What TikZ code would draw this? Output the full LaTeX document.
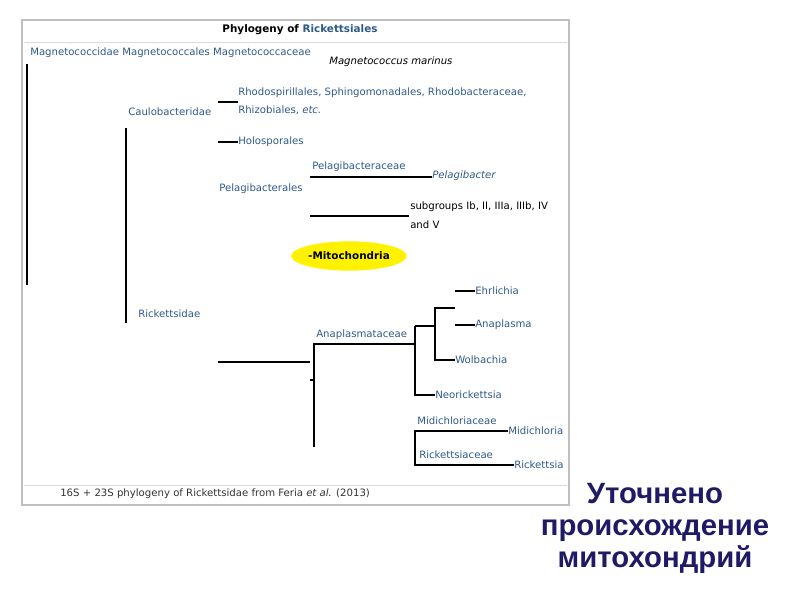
\documentclass[tikz,border=0pt]{standalone}
\usepackage{fontspec}
\usetikzlibrary{shapes.geometric}
\setmainfont{DejaVu Sans}
\newfontfamily\rusfont{Liberation Sans}
\definecolor{tx}{HTML}{2E5A88}
\definecolor{rus}{HTML}{1E1A66}
\begin{document}
\begin{tikzpicture}[x=0.75pt,y=-0.75pt,
  lab/.style={anchor=west,inner sep=0pt,font=\fontsize{7.6}{9}\selectfont,text=tx},
  blk/.style={lab,text=black},
  br/.style={line width=0.8pt}]
\useasboundingbox (0,0) rectangle (794,595);
\draw[gray!50,line width=1pt] (22,20) rectangle (569,505);
\draw[gray!30] (24,42) -- (567,42);
\draw[gray!30] (24,485) -- (567,485);
\node[font=\fontsize{7.8}{9}\selectfont\bfseries,inner sep=0pt] (title) at (300,30) {Phylogeny of \textcolor{tx}{Rickettsiales}};
\node[lab] (mag) at (30,53) {Magnetococcidae Magnetococcales Magnetococcaceae};
\node[blk,font=\fontsize{7.6}{9}\selectfont\itshape] (mm) at (329,62) {Magnetococcus marinus};
\node[lab] (cau) at (128,112) {Caulobacteridae};
\node[lab] (rho1) at (238,93) {Rhodospirillales, Sphingomonadales, Rhodobacteraceae,};
\node[lab] (rho2) at (238,110) {Rhizobiales, \textit{etc.}};
\node[lab] (hol) at (238,142) {Holosporales};
\node[lab] (pgc) at (312,167) {Pelagibacteraceae};
\node[lab,font=\fontsize{7.6}{9}\selectfont\itshape] (pgb) at (432,176) {Pelagibacter};
\node[lab] (pgl) at (219,189) {Pelagibacterales};
\node[blk] (sg1) at (410,207) {subgroups Ib, II, IIIa, IIIb, IV};
\node[blk] (sg2) at (410,225) {and V};
\node[ellipse,fill=yellow,minimum width=83pt,minimum height=22pt,inner sep=0pt,font=\fontsize{7.8}{9}\selectfont\bfseries] (mit) at (349,256) {-Mitochondria};
\node[lab] (ric) at (138,314) {Rickettsidae};
\node[lab] (ehr) at (475,291) {Ehrlichia};
\node[lab] (ana) at (475,325) {Anaplasma};
\node[lab] (wol) at (455,360) {Wolbachia};
\node[lab] (neo) at (435,395) {Neorickettsia};
\node[lab] (anc) at (316,335) {Anaplasmataceae};
\node[lab] (mdc) at (417,421) {Midichloriaceae};
\node[lab] (mdi) at (508,431) {Midichloria};
\node[lab] (rcc) at (419,455) {Rickettsiaceae};
\node[lab] (rck) at (514,465) {Rickettsia};
\node[blk,text=black!80] (foot) at (60,494) {16S + 23S phylogeny of Rickettsidae from Feria \textit{et al.} (2013)};
\coordinate (v1t) at (27,64); \coordinate (v1b) at (27,285);
\coordinate (v2t) at (126,128); \coordinate (v2b) at (126,323);
\draw[br] (v1t) -- (v1b);
\draw[br] (v2t) -- (v2b);
\draw[br] (218,102) -- (238,102);
\draw[br] (218,142) -- (hol.west);
\draw[br] (310,177) -- (432,177);
\draw[br] (310,216) -- (409,216);
\draw[br] (218,362) -- (310,362);
\draw[br] (310,380) -- (314,380);
\draw[br] (314,447) -- (314,344) -- (415,344);
\draw[br] (455,291) -- (ehr.west);
\draw[br] (455,325) -- (ana.west);
\draw[br] (455,308) -- (435,308) -- (435,360) -- (wol.west);
\draw[br] (415,326) -- (435,326);
\draw[br] (415,326) -- (415,395) -- (neo.west);
\draw[br] (mdi.west) -- (415,431) -- (415,465) -- (rck.west);
\node[font=\rusfont\fontsize{22}{24}\selectfont\bfseries,text=rus,align=center,inner sep=0pt] (rus) at (655,528) {Уточнено\\происхождение\\митохондрий};
\end{tikzpicture}
\end{document}
